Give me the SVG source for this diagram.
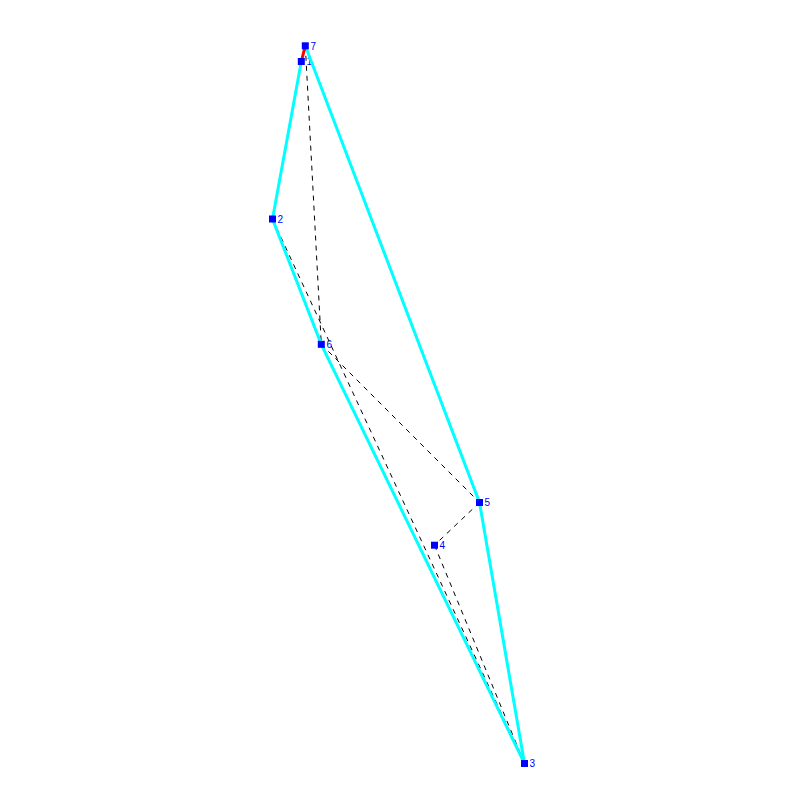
<svg xmlns="http://www.w3.org/2000/svg" width="800" height="800" viewBox="0 0 800 800">
<style>
.lbl{font-family:"Liberation Sans",Arial,sans-serif;font-size:10px;fill:#0000ff}
.sq{fill:#0000ff}
.hull{stroke:#00ffff;stroke-width:3;fill:none}
.dash{stroke:#000;stroke-width:1;stroke-dasharray:5,5;fill:none}
</style>
<rect width="800" height="800" fill="#fff"/>
<g id="labels">
<text class="lbl" x="310.5" y="49.5">7</text>
<text class="lbl" x="306.5" y="65">1</text>
<text class="lbl" x="277.5" y="222.5">2</text>
<text class="lbl" x="326.5" y="348">6</text>
<text class="lbl" x="484.5" y="506">5</text>
<text class="lbl" x="439.5" y="549">4</text>
<text class="lbl" x="529.5" y="767">3</text>
</g>
<g id="connectors">
<line class="dash" x1="301.3" y1="61.5" x2="272.5" y2="219"/>
<line class="dash" x1="305.3" y1="45.8" x2="321.3" y2="344.3"/>
<line class="dash" x1="272.5" y1="219" x2="524.5" y2="763.5"/>
<line class="dash" x1="321.3" y1="344.3" x2="479.5" y2="502.5"/>
<line class="dash" x1="479.5" y1="502.5" x2="434.5" y2="545.2"/>
<line class="dash" x1="434.5" y1="545.2" x2="524.5" y2="763.5"/>
<polyline class="hull" points="305.3,45.8 479.5,502.5 524.5,763.5 321.3,344.3 272.5,219 301.3,61.5"/>
<line x1="301.3" y1="61.5" x2="305.3" y2="45.8" stroke="#ff0000" stroke-width="3"/>
</g>
<g id="n7"><rect class="sq" x="301.8" y="42.3" width="7" height="7"/></g>
<g id="n1"><rect class="sq" x="297.8" y="58" width="7" height="7"/></g>
<g id="n2"><rect class="sq" x="269" y="215.5" width="7" height="7"/></g>
<g id="n6"><rect class="sq" x="317.8" y="340.8" width="7" height="7"/></g>
<g id="n5"><rect class="sq" x="476" y="499" width="7" height="7"/></g>
<g id="n4"><rect class="sq" x="431" y="541.7" width="7" height="7"/></g>
<g id="n3"><rect class="sq" x="521" y="760" width="7" height="7"/></g>
</svg>
